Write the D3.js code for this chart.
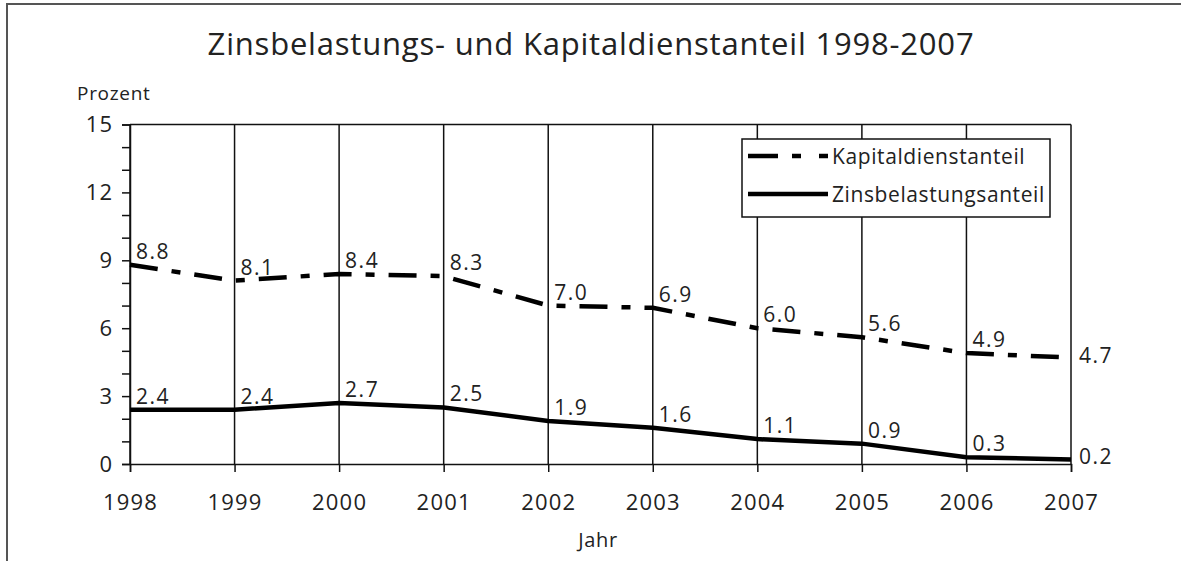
<!DOCTYPE html>
<html>
<head>
<meta charset="utf-8">
<script src="https://cdn.jsdelivr.net/npm/d3@7"></script>
<style>
  body { margin: 0; background: #fff; }
  text { font-family: "Open Sans", "Noto Sans", sans-serif; fill: #222; }
</style>
</head>
<body>
<div id="chart"></div>
<script>
// Data
var years = [1998, 1999, 2000, 2001, 2002, 2003, 2004, 2005, 2006, 2007];
var kapitaldienst = [8.8, 8.1, 8.4, 8.3, 7.0, 6.9, 6.0, 5.6, 4.9, 4.7];
var zinsbelastung = [2.4, 2.4, 2.7, 2.5, 1.9, 1.6, 1.1, 0.9, 0.3, 0.2];
var yTickLabels = [0, 3, 6, 9, 12, 15];
var seriesNames = ["Kapitaldienstanteil", "Zinsbelastungsanteil"];

// Chart params
var svgWidth = 1181;
var svgHeight = 561;
var margin = { top: 124.5, right: 110, bottom: 97, left: 130 };
var width = svgWidth - margin.left - margin.right;
var height = svgHeight - margin.top - margin.bottom;

var svg = d3.select("#chart")
  .append("svg")
  .attr("width", svgWidth)
  .attr("height", svgHeight);

// outer frame (cut off at right and bottom)
svg.append("rect")
  .attr("x", 7).attr("y", 4)
  .attr("width", 1200).attr("height", 600)
  .attr("fill", "none")
  .attr("stroke", "#555")
  .attr("stroke-width", 2);

svg.append("text")
  .attr("x", 591).attr("y", 55)
  .attr("text-anchor", "middle")
  .style("font-size", "31px")
  .style("letter-spacing", "0.8px")
  .text("Zinsbelastungs- und Kapitaldienstanteil 1998-2007");

var chartGroup = svg.append("g")
  .attr("transform", `translate(${margin.left}, ${margin.top})`);

var x = d3.scaleLinear()
  .domain(d3.extent(years))
  .range([0, width]);

var y = d3.scaleLinear()
  .domain([0, 15])
  .range([height, 0]);

// vertical grid lines at each year
chartGroup.append("g")
  .selectAll("line")
  .data(years)
  .enter()
  .append("line")
  .attr("x1", d => x(d)).attr("x2", d => x(d))
  .attr("y1", 0).attr("y2", height)
  .attr("stroke", "#111")
  .attr("stroke-width", 1.5);

// top border
chartGroup.append("line")
  .attr("x1", 0).attr("x2", width)
  .attr("y1", 0).attr("y2", 0)
  .attr("stroke", "#111")
  .attr("stroke-width", 1.5);

// y axis: minor ticks every 1, labels every 3
var leftAxis = d3.axisLeft(y)
  .tickValues(d3.range(0, 16))
  .tickSize(8)
  .tickPadding(9)
  .tickFormat(d => yTickLabels.includes(d) ? d : "");

var yAxis = chartGroup.append("g").call(leftAxis);
yAxis.selectAll("text")
  .style("font-size", "22px")
  .style("letter-spacing", "1px");

// x axis
var bottomAxis = d3.axisBottom(x)
  .tickValues(years)
  .tickSize(8)
  .tickPadding(22)
  .tickFormat(d3.format("d"));

var xAxis = chartGroup.append("g")
  .attr("transform", `translate(0, ${height})`)
  .call(bottomAxis);
xAxis.selectAll("text")
  .style("font-size", "22px")
  .style("letter-spacing", "1.2px");

[yAxis, xAxis].forEach(function(a) {
  a.select(".domain").attr("stroke", "#111").attr("stroke-width", 1.5);
  a.selectAll(".tick line").attr("stroke", "#111").attr("stroke-width", 1.5);
  a.selectAll("text").style("fill", "#222");
});

// axis titles
svg.append("text")
  .attr("x", 77).attr("y", 100)
  .style("font-size", "19px")
  .style("letter-spacing", "0.7px")
  .text("Prozent");

svg.append("text")
  .attr("x", 598).attr("y", 547)
  .attr("text-anchor", "middle")
  .style("font-size", "20px")
  .style("letter-spacing", "0.6px")
  .text("Jahr");

// lines
var line = d3.line()
  .x((d, i) => x(years[i]))
  .y(d => y(d));

chartGroup.append("path")
  .datum(kapitaldienst)
  .attr("d", line)
  .attr("fill", "none")
  .attr("stroke", "#000")
  .attr("stroke-width", 4.5)
  .attr("stroke-dasharray", "28,14,9,14");

chartGroup.append("path")
  .datum(zinsbelastung)
  .attr("d", line)
  .attr("fill", "none")
  .attr("stroke", "#000")
  .attr("stroke-width", 4.5);

// value labels
function addLabels(values) {
  var last = values.length - 1;
  chartGroup.selectAll(null)
    .data(values)
    .enter()
    .append("text")
    .attr("x", (d, i) => i === last ? x(years[i]) + 8 : x(years[i]) + 6)
    .attr("y", (d, i) => i === last ? y(d) + 5 : y(d) - 6)
    .style("font-size", "21px")
    .style("letter-spacing", "1.5px")
    .text(d => d.toFixed(1));
}
addLabels(kapitaldienst);
addLabels(zinsbelastung);

// legend
var legend = svg.append("g").attr("transform", "translate(742, 139)");
legend.append("rect")
  .attr("width", 308).attr("height", 78)
  .attr("fill", "#fff")
  .attr("stroke", "#111")
  .attr("stroke-width", 1.5);

var legendRows = legend.selectAll("g.row")
  .data(seriesNames)
  .enter()
  .append("g")
  .attr("class", "row")
  .attr("transform", (d, i) => `translate(0, ${17 + i * 38})`);

legendRows.append("line")
  .attr("x1", 6).attr("x2", 86)
  .attr("y1", 0).attr("y2", 0)
  .attr("stroke", "#000")
  .attr("stroke-width", 4.5)
  .attr("stroke-dasharray", (d, i) => i === 0 ? "30,14,9,18" : null);

legendRows.append("text")
  .attr("x", 90)
  .attr("y", 8)
  .style("font-size", "21px")
  .style("letter-spacing", "0.6px")
  .text(d => d);
</script>
</body>
</html>
